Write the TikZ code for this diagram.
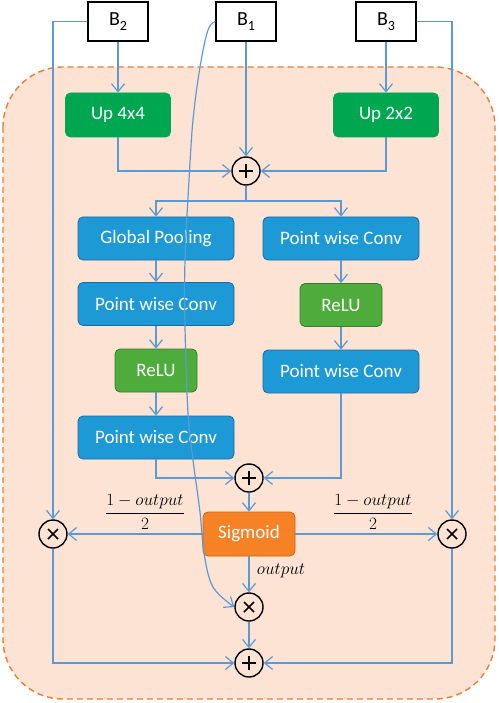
\documentclass[tikz,border=0pt]{standalone}
\usepackage{amsmath}
\usepackage{fontspec}
\setmainfont{Carlito}
\usetikzlibrary{arrows.meta}
\definecolor{cline}{RGB}{91,155,213}
\definecolor{cbg}{RGB}{252,227,212}
\definecolor{cdash}{RGB}{237,125,49}
\definecolor{cblue}{RGB}{29,153,214}
\definecolor{cbluedk}{RGB}{30,105,165}
\definecolor{cgreen}{RGB}{0,166,80}
\definecolor{crelu}{RGB}{78,172,60}
\definecolor{creludk}{RGB}{55,125,40}
\definecolor{csig}{RGB}{247,130,38}
\definecolor{csigdk}{RGB}{205,100,20}
\newcommand{\boxfont}{\fontsize{19}{22}\selectfont}
\newcommand{\bfnt}{\fontsize{20}{22}\selectfont}
\newcommand{\mathlab}{\fontsize{16}{19}\selectfont}
\newcommand{\bsub}[1]{B\raisebox{-4.5pt}{\fontsize{14}{14}\selectfont #1}}
\begin{document}
\begin{tikzpicture}[x=1pt,y=-1pt,
  conn/.style={draw=cline, line width=1.2pt},
  arr/.style={conn,-{Straight Barb[length=8pt,width=13pt]}},
  basebox/.style={rectangle, rounded corners=5pt, text=white, font=\boxfont, inner sep=0pt, line width=0.8pt},
  bluebox/.style={basebox, fill=cblue, draw=cbluedk, minimum width=156pt, minimum height=43pt},
  upbox/.style={basebox, fill=cgreen, draw=cgreen, minimum width=105pt, minimum height=44pt},
  relubox/.style={basebox, fill=crelu, draw=creludk, minimum width=82pt, minimum height=43pt},
  sigbox/.style={basebox, fill=csig, draw=csigdk, minimum width=92pt, minimum height=44pt},
  inbox/.style={rectangle, draw=black, fill=white, line width=1.3pt, minimum width=60pt, minimum height=39pt, font=\bfnt, inner sep=0pt},
  opc/.style={circle, draw=black, line width=1.4pt, minimum size=28pt, inner sep=0pt},
  plusc/.style={opc, path picture={\draw[black,line width=1.6pt]
      ([xshift=-7pt]path picture bounding box.center) -- ([xshift=7pt]path picture bounding box.center)
      ([yshift=-7pt]path picture bounding box.center) -- ([yshift=7pt]path picture bounding box.center);}},
  timesc/.style={opc, path picture={\draw[black,line width=1.6pt]
      ([shift={(-5pt,-5pt)}]path picture bounding box.center) -- ([shift={(5pt,5pt)}]path picture bounding box.center)
      ([shift={(-5pt,5pt)}]path picture bounding box.center) -- ([shift={(5pt,-5pt)}]path picture bounding box.center);}},
  mlab/.style={inner sep=0pt, font=\mathlab}
]
\useasboundingbox (0,0) rectangle (498,703);
\draw[fill=cbg, draw=cdash, line width=1.4pt, dash pattern=on 6pt off 4pt, rounded corners=60pt] (3,67) rectangle (495,699);

\node[inbox] (b2) at (118,21.5) {\bsub{2}};
\node[inbox] (b1) at (246,21.5) {\bsub{1}};
\node[inbox] (b3) at (386,21.5) {\bsub{3}};
\node[upbox] (up4) at (118,115) {Up 4x4};
\node[upbox] (up2) at (386,115) {Up 2x2};
\node[plusc] (p1) at (246,171) {};
\node[bluebox] (gp) at (156,238.5) {Global Pooling};
\node[bluebox] (pr1) at (341,238.5) {Point wise Conv};
\node[bluebox] (pl2) at (156,304) {Point wise Conv};
\node[relubox] (rl) at (156,370.5) {ReLU};
\node[bluebox] (pl3) at (156,437.5) {Point wise Conv};
\node[relubox] (rr) at (341,305) {ReLU};
\node[bluebox] (pr2) at (341,371.5) {Point wise Conv};
\node[plusc] (p2) at (249,478) {};
\node[sigbox] (sig) at (249,534) {Sigmoid};
\node[timesc] (tl) at (53,534) {};
\node[timesc] (tr) at (452,534) {};
\node[timesc] (tm) at (249,607) {};
\node[plusc] (bp) at (249,663) {};
\coordinate (sp) at (246,201);

\draw[arr] (b2.south) -- (up4.north);
\draw[arr] (b3.south) -- (up2.north);
\draw[arr] (b1.south) -- (p1.north);
\draw[arr] (up4.south) |- (p1.west);
\draw[arr] (up2.south) |- (p1.east);
\draw[conn] (p1.south) -- (sp);
\draw[arr] (sp) -| (gp.north);
\draw[arr] (sp) -| (pr1.north);
\draw[arr] (gp) -- (pl2);
\draw[arr] (pl2) -- (rl);
\draw[arr] (rl) -- (pl3);
\draw[arr] (pr1) -- (rr);
\draw[arr] (rr) -- (pr2);
\draw[arr] (pl3.south) |- (p2.west);
\draw[arr] (pr2.south) |- (p2.east);
\draw[arr] (p2) -- (sig);
\draw[arr] (sig.west) -- (tl.east);
\draw[arr] (sig.east) -- (tr.west);
\draw[arr] (b2.west) -| (tl.north);
\draw[arr] (b3.east) -| (tr.north);
\draw[arr] (sig) -- (tm);
\draw[arr] (tm) -- (bp);
\draw[arr] (tl.south) |- (bp.west);
\draw[arr] (tr.south) |- (bp.east);
\draw[arr] plot[smooth, tension=0.6] coordinates {(b1.west) (208,30) (200,67) (193,120) (189,180) (185,260) (185,327) (188,413) (193,460) (200,512) (204,553) (213,587) (tm.west)};

\node[mlab] (fl) at (145,512) {$\dfrac{1-output}{2}$};
\node[mlab] (fr) at (373,512) {$\dfrac{1-output}{2}$};
\node[mlab] (ol) at (281,571) {$output$};
\end{tikzpicture}
\end{document}
